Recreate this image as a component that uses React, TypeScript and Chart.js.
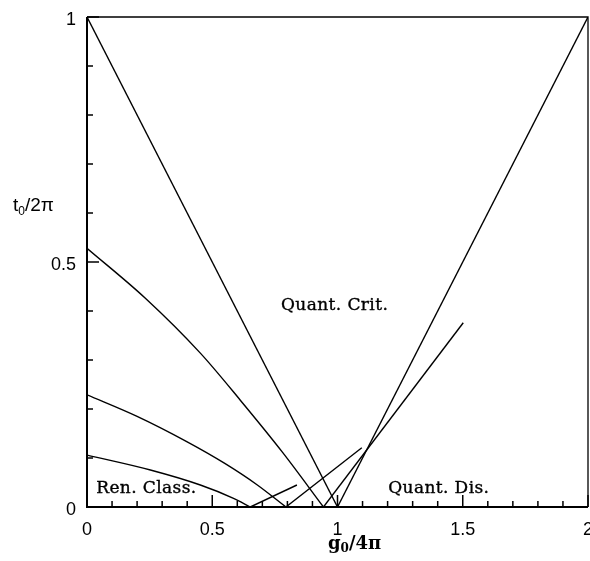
import { useEffect, useRef } from "react";
import { Chart, registerables } from "chart.js";

Chart.register(...registerables);

// ---- axis ticks ----
const xMajorTicks = [0, 0.5, 1, 1.5, 2];
const xTickLabels = ["0", "0.5", "1", "1.5", "2"];
const yMajorTicks = [0, 0.5, 1];
const yTickLabels = ["0", "0.5", "1"];
const xMinorTicks = [0.1, 0.2, 0.3, 0.4, 0.6, 0.7, 0.8, 0.9, 1.1, 1.2, 1.3, 1.4, 1.6, 1.7, 1.8, 1.9];
const yMinorTicks = [0.1, 0.2, 0.3, 0.4, 0.6, 0.7, 0.8, 0.9];

// ---- series ----
const lineAX = [0, 1];
const lineAY = [1, 0];
const lineEX = [1, 2];
const lineEY = [0, 1];

const curveBX = [0, 0.233, 0.4525, 0.612, 0.78, 0.944];
const curveBY = [0.528, 0.426, 0.314, 0.218, 0.112, 0];
const riseBX = [0.944, 1.502];
const riseBY = [0, 0.376];

const curveCX = [0, 0.2, 0.4, 0.55, 0.68, 0.794];
const curveCY = [0.229, 0.185, 0.133, 0.089, 0.045, 0];
const riseCX = [0.794, 1.097];
const riseCY = [0, 0.121];

const curveDX = [0, 0.253, 0.4525, 0.585, 0.652];
const curveDY = [0.106, 0.0755, 0.0449, 0.0177, 0];
const riseDX = [0.652, 0.838];
const riseDY = [0, 0.0449];

// ---- region labels (data coordinates of left/baseline) ----
const regionTexts = ["Quant. Crit.", "Ren. Class.", "Quant. Dis."];
const regionX = [0.7745, 0.0367, 1.2024];
const regionY = [0.402, 0.0292, 0.0279];

const pts = (xs: number[], ys: number[]) => xs.map((x, i) => ({ x, y: ys[i] }));

export default function App() {
  const ref = useRef<HTMLCanvasElement | null>(null);

  useEffect(() => {
    if (!ref.current) return;
    const mk = (xs: number[], ys: number[], curved: boolean) => ({
      data: pts(xs, ys),
      showLine: true,
      pointRadius: 0,
      borderColor: "#000",
      borderWidth: 1.4,
      fill: false,
      cubicInterpolationMode: curved ? ("monotone" as const) : ("default" as const),
      tension: 0,
    });

    const SANS = "'Liberation Sans', Arial, sans-serif";
    const SERIF = "'DejaVu Serif', serif";

    const decor = {
      id: "decor",
      afterDraw(chart: any) {
        const { ctx, chartArea: a, scales } = chart;
        const xs = scales.x;
        const ys = scales.y;
        ctx.save();
        ctx.strokeStyle = "#000";
        ctx.lineCap = "butt";
        // frame
        ctx.lineWidth = 1.3;
        ctx.beginPath();
        ctx.moveTo(a.left, a.top);
        ctx.lineTo(a.right, a.top);
        ctx.lineTo(a.right, a.bottom);
        ctx.stroke();
        ctx.lineWidth = 2;
        ctx.beginPath();
        ctx.moveTo(a.left, a.top);
        ctx.lineTo(a.left, a.bottom);
        ctx.lineTo(a.right, a.bottom);
        ctx.stroke();
        // inward ticks
        ctx.lineWidth = 1.5;
        ctx.beginPath();
        xMajorTicks.forEach((v) => {
          const p = xs.getPixelForValue(v);
          ctx.moveTo(p, a.bottom);
          ctx.lineTo(p, a.bottom - 12);
        });
        xMinorTicks.forEach((v) => {
          const p = xs.getPixelForValue(v);
          ctx.moveTo(p, a.bottom);
          ctx.lineTo(p, a.bottom - 6);
        });
        yMajorTicks.forEach((v) => {
          const p = ys.getPixelForValue(v);
          ctx.moveTo(a.left, p);
          ctx.lineTo(a.left + 12, p);
        });
        yMinorTicks.forEach((v) => {
          const p = ys.getPixelForValue(v);
          ctx.moveTo(a.left, p);
          ctx.lineTo(a.left + 6, p);
        });
        ctx.stroke();

        ctx.fillStyle = "#000";
        // tick labels
        ctx.font = `18px ${SANS}`;
        ctx.textBaseline = "middle";
        ctx.textAlign = "center";
        xMajorTicks.forEach((v, i) => {
          ctx.fillText(xTickLabels[i], xs.getPixelForValue(v), a.bottom + 23);
        });
        ctx.textAlign = "right";
        yMajorTicks.forEach((v, i) => {
          ctx.fillText(yTickLabels[i], a.left - 11, ys.getPixelForValue(v) + 3);
        });

        ctx.textBaseline = "alphabetic";
        ctx.textAlign = "left";
        // region labels
        ctx.font = `17px ${SERIF}`;
        ctx.lineWidth = 0.35;
        (ctx as any).letterSpacing = "0.4px";
        regionTexts.forEach((t, i) => {
          const px = xs.getPixelForValue(regionX[i]);
          const py = ys.getPixelForValue(regionY[i]);
          ctx.fillText(t, px, py);
          ctx.strokeText(t, px, py);
        });
        (ctx as any).letterSpacing = "0px";

        // y title t0/2π
        let x = 13;
        const yb = 211;
        ctx.font = `19px ${SANS}`;
        ctx.fillText("t", x, yb);
        x += ctx.measureText("t").width;
        ctx.font = `12px ${SANS}`;
        ctx.fillText("0", x, yb + 4);
        x += ctx.measureText("0").width;
        ctx.font = `19px ${SANS}`;
        ctx.fillText("/2π", x, yb);

        // x title g0/4π
        x = 328;
        const xb = 549;
        ctx.font = `bold 18px ${SERIF}`;
        ctx.fillText("g", x, xb);
        x += ctx.measureText("g").width;
        ctx.font = `bold 12px ${SERIF}`;
        ctx.fillText("0", x, xb + 3);
        x += ctx.measureText("0").width;
        ctx.font = `bold 18px ${SERIF}`;
        ctx.fillText("/4π", x, xb);
        ctx.restore();
      },
    };

    const chart = new Chart(ref.current, {
      type: "scatter",
      data: {
        datasets: [
          mk(lineAX, lineAY, false),
          mk(lineEX, lineEY, false),
          mk(curveBX, curveBY, true),
          mk(riseBX, riseBY, false),
          mk(curveCX, curveCY, true),
          mk(riseCX, riseCY, false),
          mk(curveDX, curveDY, true),
          mk(riseDX, riseDY, false),
        ] as any,
      },
      options: {
        animation: false,
        responsive: true,
        maintainAspectRatio: false,
        layout: { padding: { left: 0, right: 2, top: 17, bottom: 0 } },
        plugins: { legend: { display: false }, tooltip: { enabled: false } },
        scales: {
          x: {
            type: "linear",
            min: 0,
            max: 2,
            grid: { display: false },
            border: { display: false },
            ticks: { display: false },
            afterFit: (s: any) => {
              s.height = 54;
            },
          },
          y: {
            type: "linear",
            min: 0,
            max: 1,
            grid: { display: false },
            border: { display: false },
            ticks: { display: false },
            afterFit: (s: any) => {
              s.width = 87;
            },
          },
        },
      },
      plugins: [decor],
    });
    return () => chart.destroy();
  }, []);

  return (
    <div style={{ position: "absolute", left: 0, top: 0, width: 590, height: 561, background: "#fff" }}>
      <canvas ref={ref} />
    </div>
  );
}
